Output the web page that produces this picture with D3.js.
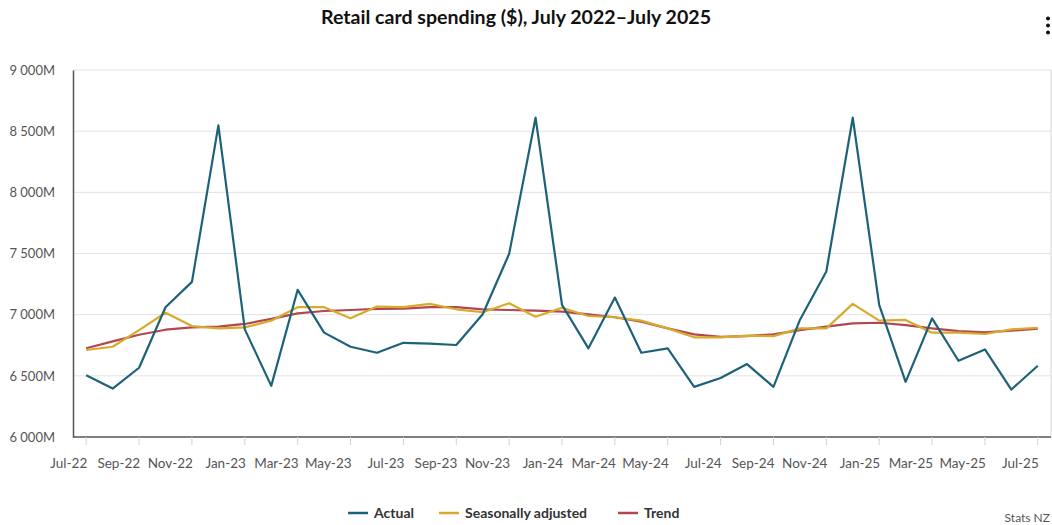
<!DOCTYPE html>
<html>
<head>
<meta charset="utf-8">
<script src="https://cdn.jsdelivr.net/npm/d3@7"></script>
<style>
  body { margin: 0; background: #fff; }
  #chart { width: 1052px; height: 525px; }
  text { font-family: Lato, "Open Sans", sans-serif; }
</style>
</head>
<body>
<div id="chart"></div>
<script>
var months = ["Jul-22","Aug-22","Sep-22","Oct-22","Nov-22","Dec-22","Jan-23","Feb-23","Mar-23","Apr-23","May-23","Jun-23",
  "Jul-23","Aug-23","Sep-23","Oct-23","Nov-23","Dec-23","Jan-24","Feb-24","Mar-24","Apr-24","May-24","Jun-24",
  "Jul-24","Aug-24","Sep-24","Oct-24","Nov-24","Dec-24","Jan-25","Feb-25","Mar-25","Apr-25","May-25","Jun-25","Jul-25"];

// values in $ millions
var actual = [6505,6396,6566,7061,7268,8547,6880,6418,7203,6853,6738,6689,
  6770,6764,6752,7003,7497,8610,7080,6725,7140,6689,6725,6410,
  6482,6596,6410,6957,7353,8610,7080,6451,6970,6623,6716,6388,6582];
var seasAdj = [6711,6738,6874,7016,6907,6888,6896,6951,7061,7061,6970,7066,
  7061,7088,7044,7020,7093,6983,7057,6989,6979,6951,6888,6815,
  6815,6828,6825,6888,6888,7088,6951,6957,6853,6853,6842,6880,6893];
var trend = [6725,6782,6836,6877,6896,6902,6924,6965,7011,7030,7038,7047,
  7049,7061,7061,7044,7038,7033,7025,7003,6979,6943,6888,6839,
  6818,6825,6839,6874,6902,6929,6934,6915,6888,6866,6855,6869,6885];

var yTicks = [6000,6500,7000,7500,8000,8500,9000];

var series = [
  {name: "Actual", values: actual, color: "#1d6278"},
  {name: "Seasonally adjusted", values: seasAdj, color: "#d8aa2c"},
  {name: "Trend", values: trend, color: "#b3474f"}
];

const w = 1052, h = 525;
const plotLeft = 73, plotRight = 1051, plotTop = 70, plotBottom = 437;

const svg = d3.select("#chart").append("svg")
  .attr("width", w).attr("height", h);

svg.append("text")
  .attr("x", 516).attr("y", 24)
  .attr("text-anchor", "middle")
  .attr("textLength", 390).attr("lengthAdjust", "spacingAndGlyphs")
  .style("font-size", "18px").style("font-weight", "bold").style("fill", "#111")
  .text("Retail card spending ($), July 2022\u2013July 2025");

// menu dots
svg.selectAll("circle.menu")
  .data([18.5, 25.5, 32.5])
  .enter().append("circle")
  .attr("class", "menu")
  .attr("cx", 1048).attr("cy", d => d).attr("r", 2)
  .attr("fill", "#111");

const xScale = d3.scaleBand()
  .domain(months)
  .range([plotLeft, plotRight]);

const yScale = d3.scaleLinear()
  .domain([6000, 9000])
  .range([plotBottom, plotTop]);

const fmt = v => d3.format(",")(v).replace(/,/g, " ") + "M";

// gridlines
svg.append("g")
  .selectAll("line")
  .data(yTicks.slice(1))
  .enter().append("line")
  .attr("x1", plotLeft).attr("x2", plotRight)
  .attr("y1", d => yScale(d)).attr("y2", d => yScale(d))
  .attr("stroke", "#e3e3e3").attr("stroke-width", 1);

// right border
svg.append("line")
  .attr("x1", plotRight).attr("x2", plotRight)
  .attr("y1", plotTop).attr("y2", plotBottom)
  .attr("stroke", "#d6d6d6");

// Y axis
const yAxis = d3.axisLeft(yScale).tickValues(yTicks).tickFormat(fmt).tickSize(0).tickPadding(18);
const gy = svg.append("g")
  .attr("transform", "translate(" + plotLeft + ",0)")
  .call(yAxis);
gy.select(".domain").attr("stroke", "#555").attr("stroke-width", 1.5);
gy.selectAll("text").style("font-size", "13px").style("fill", "#555").style("font-family", "Lato, sans-serif");

// X axis
const xAxis = d3.axisBottom(xScale)
  .tickValues(months.filter((m, i) => i % 2 === 0))
  .tickSize(8).tickPadding(13);
const gx = svg.append("g")
  .attr("transform", "translate(0," + plotBottom + ")")
  .call(xAxis);
gx.select(".domain").attr("d", "M" + plotLeft + ",0H" + plotRight).attr("stroke", "#555").attr("stroke-width", 1.5);
gx.selectAll(".tick line").attr("stroke", "#c9d3e8");
gx.selectAll("text")
  .attr("text-anchor", "end").attr("x", 1)
  .style("font-size", "13.5px").style("fill", "#555").style("font-family", "Lato, sans-serif");

// lines
const line = d3.line()
  .x((d, i) => xScale(months[i]) + xScale.bandwidth() / 2)
  .y(d => yScale(d));

svg.selectAll("path.series")
  .data(series.slice().reverse())
  .enter().append("path")
  .attr("class", "series")
  .attr("d", d => line(d.values))
  .attr("fill", "none")
  .attr("stroke", d => d.color)
  .attr("stroke-width", 2.2)
  .attr("stroke-linejoin", "round");

// legend
const legendX = [348, 439, 618];
const lg = svg.selectAll("g.legend")
  .data(series)
  .enter().append("g")
  .attr("class", "legend")
  .attr("transform", (d, i) => "translate(" + legendX[i] + ",513)");
lg.append("line")
  .attr("x1", 0).attr("x2", 20).attr("y1", 0).attr("y2", 0)
  .attr("stroke", d => d.color).attr("stroke-width", 2.5);
lg.append("text")
  .attr("x", 26).attr("y", 5)
  .style("font-size", "14px").style("font-weight", "bold").style("fill", "#333")
  .text(d => d.name);

svg.append("text")
  .attr("x", 1050).attr("y", 522)
  .attr("text-anchor", "end")
  .style("font-size", "12px").style("fill", "#555")
  .text("Stats NZ");
</script>
</body>
</html>
